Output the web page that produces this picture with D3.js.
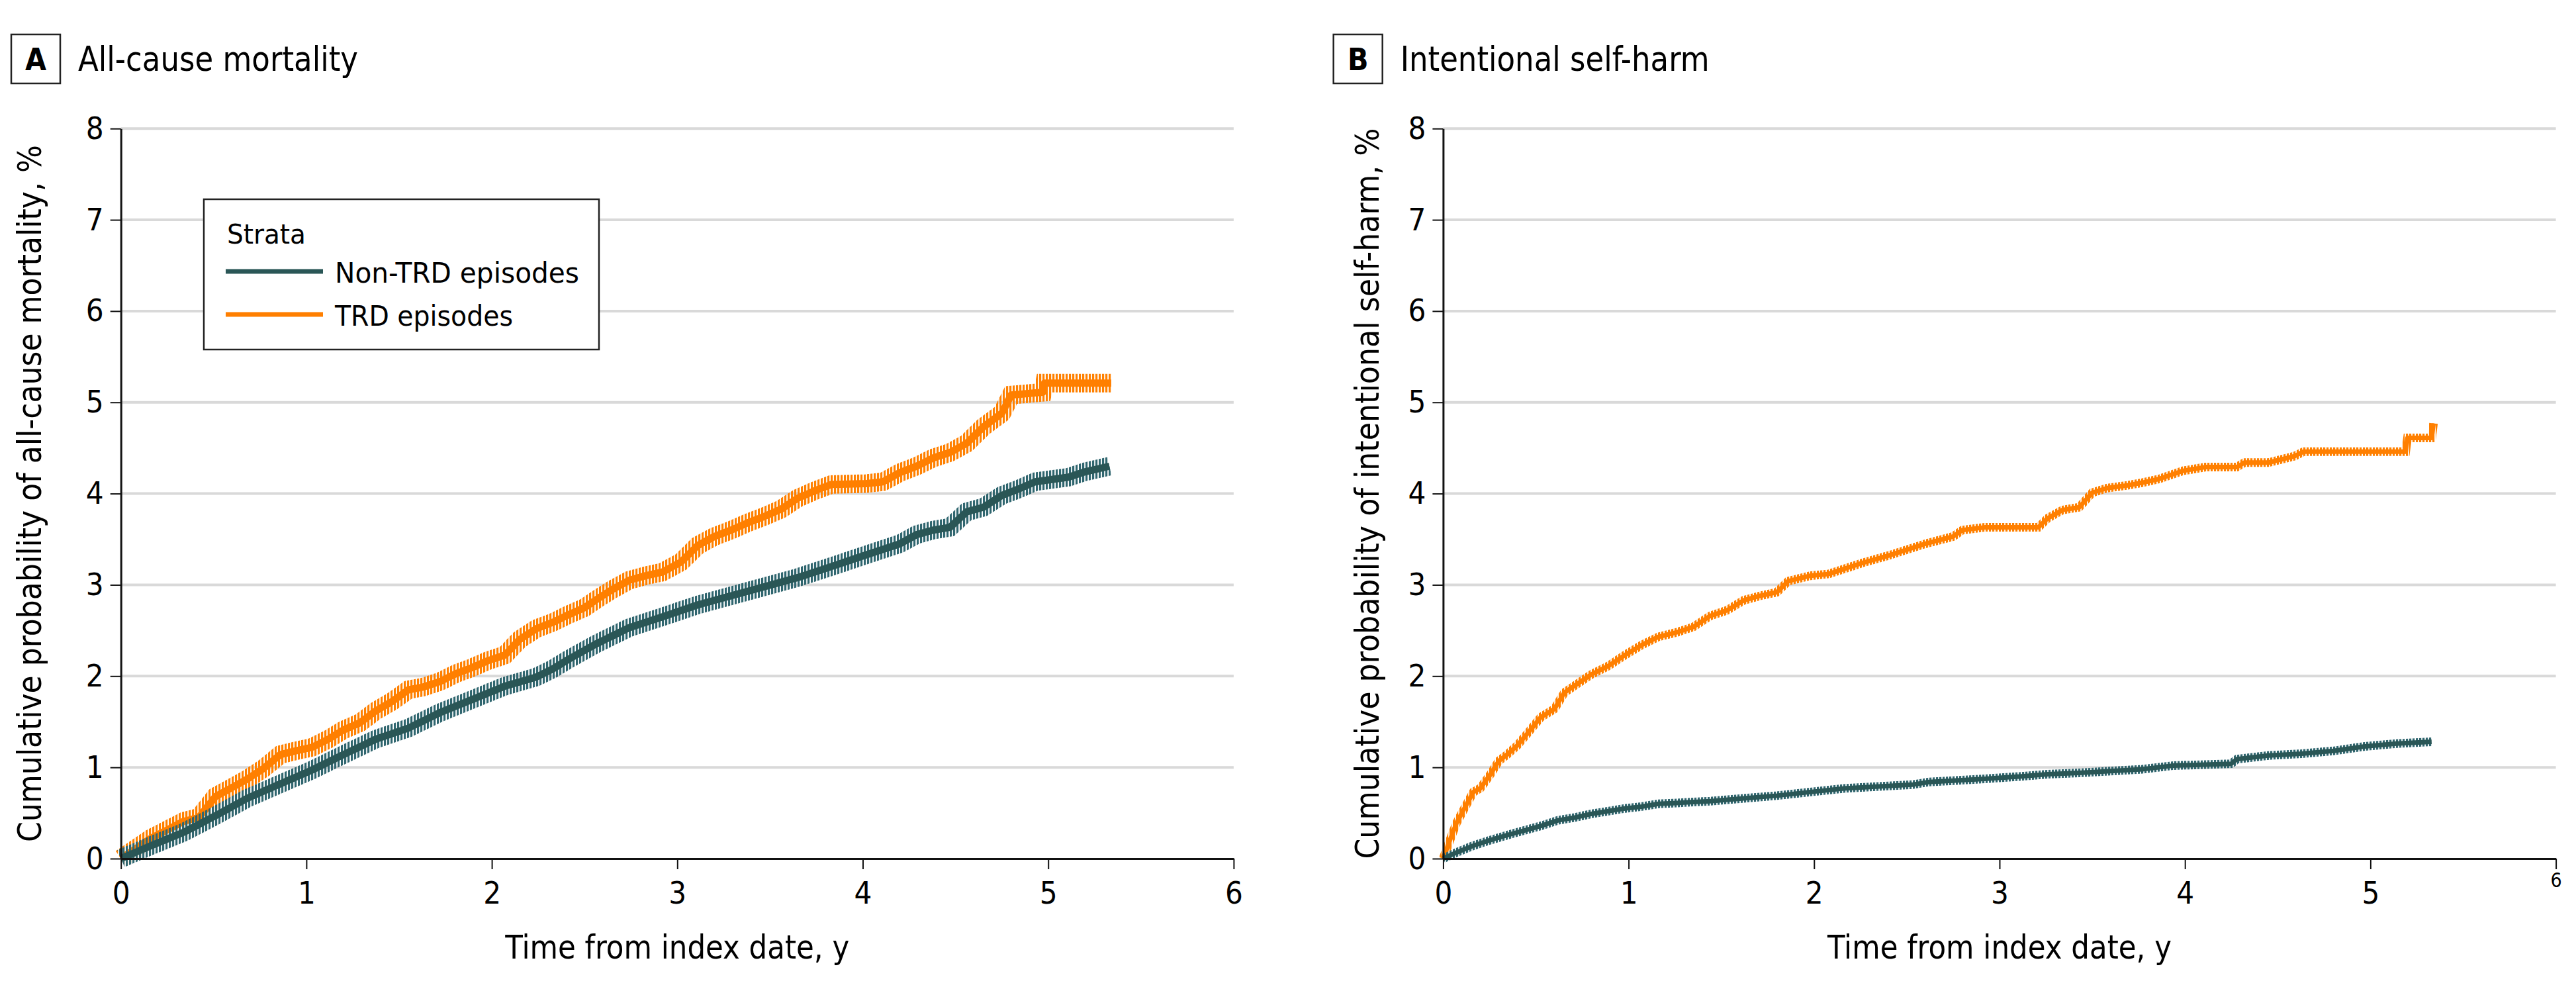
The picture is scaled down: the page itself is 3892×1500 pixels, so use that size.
<!DOCTYPE html>
<html>
<head>
<meta charset="utf-8">
<script src="https://cdn.jsdelivr.net/npm/d3@7"></script>
<style>
  body { margin: 0; background: #fff; }
  text { font-family: "Liberation Sans Narrow", "DejaVu Sans Condensed", "Roboto", sans-serif; fill: #000; }
</style>
</head>
<body>
<div id="chart"></div>
<script>
// cumulative probability (%), as [years, percent]
const mortalityNonTRD = [
  [0, 0], [0.16, 0.14], [0.34, 0.29], [0.51, 0.47], [0.68, 0.66], [0.86, 0.82],
  [1.03, 0.97], [1.2, 1.14], [1.375, 1.31], [1.55, 1.43], [1.72, 1.6], [1.89, 1.74],
  [2.07, 1.89], [2.24, 1.99], [2.33, 2.08], [2.41, 2.18], [2.56, 2.35], [2.74, 2.53],
  [2.92, 2.65], [3.11, 2.78], [3.29, 2.88], [3.47, 2.98], [3.65, 3.08], [3.83, 3.2],
  [4.02, 3.33], [4.2, 3.45], [4.29, 3.55], [4.38, 3.6], [4.47, 3.63], [4.56, 3.8],
  [4.65, 3.85], [4.75, 3.98], [4.84, 4.05], [4.93, 4.13], [5.11, 4.18], [5.2, 4.24],
  [5.33, 4.3]
];
const mortalityTRD = [
  [0, 0], [0.16, 0.22], [0.34, 0.41], [0.42, 0.45], [0.51, 0.68], [0.68, 0.87],
  [0.77, 0.99], [0.86, 1.14], [0.94, 1.18], [1.03, 1.22], [1.12, 1.31], [1.2, 1.41],
  [1.29, 1.49], [1.375, 1.62], [1.46, 1.72], [1.55, 1.85], [1.63, 1.88], [1.72, 1.94],
  [1.81, 2.03], [1.89, 2.09], [1.98, 2.17], [2.07, 2.23], [2.15, 2.4], [2.24, 2.52],
  [2.33, 2.59], [2.41, 2.67], [2.5, 2.75], [2.58, 2.86], [2.65, 2.95], [2.74, 3.05],
  [2.83, 3.1], [2.92, 3.14], [3.02, 3.25], [3.11, 3.43], [3.2, 3.53], [3.29, 3.6],
  [3.38, 3.68], [3.47, 3.75], [3.56, 3.83], [3.65, 3.95], [3.74, 4.03], [3.83, 4.1],
  [4.02, 4.11], [4.11, 4.13], [4.2, 4.23], [4.29, 4.3], [4.38, 4.39], [4.47, 4.45],
  [4.56, 4.55], [4.65, 4.73], [4.75, 4.88], [4.8, 5.08], [4.97, 5.11], [4.98, 5.21],
  [5.34, 5.21]
];
const selfHarmNonTRD = [
  [0, 0], [0.07, 0.065], [0.16, 0.14], [0.25, 0.2], [0.35, 0.26], [0.44, 0.31],
  [0.53, 0.36], [0.62, 0.42], [0.71, 0.45], [0.8, 0.49], [0.89, 0.52], [0.98, 0.55],
  [1.07, 0.57], [1.16, 0.6], [1.26, 0.61], [1.35, 0.62], [1.44, 0.63], [1.62, 0.66],
  [1.8, 0.69], [1.98, 0.73], [2.17, 0.77], [2.35, 0.79], [2.53, 0.81], [2.62, 0.84],
  [2.75, 0.855], [2.92, 0.874], [3.09, 0.897], [3.26, 0.925], [3.43, 0.94], [3.6, 0.96],
  [3.77, 0.98], [3.94, 1.02], [4.11, 1.03], [4.25, 1.04], [4.28, 1.09], [4.45, 1.13],
  [4.63, 1.15], [4.8, 1.18], [4.97, 1.23], [5.14, 1.26], [5.33, 1.28]
];
const selfHarmTRD = [
  [0, 0], [0.036, 0.2], [0.072, 0.39], [0.117, 0.56], [0.163, 0.73], [0.2, 0.77],
  [0.254, 0.92], [0.3, 1.07], [0.345, 1.14], [0.4, 1.24], [0.454, 1.37], [0.527, 1.55],
  [0.6, 1.64], [0.654, 1.82], [0.727, 1.92], [0.8, 2.02], [0.89, 2.11], [0.98, 2.23],
  [1.07, 2.34], [1.16, 2.43], [1.26, 2.48], [1.35, 2.54], [1.44, 2.66], [1.53, 2.72],
  [1.62, 2.83], [1.71, 2.88], [1.8, 2.92], [1.86, 3.04], [1.98, 3.1], [2.08, 3.12],
  [2.17, 3.18], [2.26, 3.24], [2.4, 3.32], [2.6, 3.45], [2.75, 3.53], [2.8, 3.6],
  [2.92, 3.63], [3.21, 3.63], [3.26, 3.73], [3.34, 3.82], [3.43, 3.85], [3.5, 4.01],
  [3.58, 4.06], [3.69, 4.09], [3.77, 4.12], [3.86, 4.16], [3.99, 4.25], [4.11, 4.29],
  [4.28, 4.29], [4.32, 4.34], [4.45, 4.34], [4.59, 4.41], [4.64, 4.46], [5.19, 4.46],
  [5.2, 4.61], [5.33, 4.61], [5.34, 4.77]
];

const xTicks = [0, 1, 2, 3, 4, 5, 6];
const yTicks = [0, 1, 2, 3, 4, 5, 6, 7, 8];
const strata = ["Non-TRD episodes", "TRD episodes"];
const legendTitle = "Strata";
const xTitle = "Time from index date, y";

const colors = { core: ["#2a5656", "#ff7f00"], tick: ["#30666f", "#ff8000"] };

const panels = [
  { letter: "A", title: "All-cause mortality", titleLen: 423,
    yTitle: "Cumulative probability of all-cause mortality, %", yTitleLen: 1053,
    left: 182.7, right: 1863.9, series: [mortalityTRD, mortalityNonTRD],
    core: 11, band: 28, legend: true },
  { letter: "B", title: "Intentional self-harm", titleLen: 467,
    yTitle: "Cumulative probability of intentional self-harm, %", yTitleLen: 1104,
    left: 2180.4, right: 3861.6, series: [selfHarmTRD, selfHarmNonTRD],
    core: 7, band: 13, legend: false }
];

const plotTop = 194.2, plotBottom = 1297;

const svg = d3.select("#chart").append("svg")
    .attr("width", 3892)
    .attr("height", 1500);

svg.append("rect").attr("width", 3892).attr("height", 1500).attr("fill", "#fff");

// vertical hatch used to imitate the censoring marks
const defs = svg.append("defs");
colors.tick.forEach((c, i) => {
  const p = defs.append("pattern")
      .attr("id", "hatch" + i)
      .attr("patternUnits", "userSpaceOnUse")
      .attr("width", 5).attr("height", 8);
  p.append("rect").attr("width", 3.2).attr("height", 8).attr("fill", c);
});

panels.forEach(p => {
  const x = d3.scaleLinear().domain([0, 6]).range([p.left, p.right]);
  const y = d3.scaleLinear().domain([0, 8]).range([plotBottom, plotTop]);
  const g = svg.append("g");

  // panel letter + title
  const boxX = p.left - 165.7;
  g.append("rect")
      .attr("x", boxX).attr("y", 52).attr("width", 74).attr("height", 74)
      .attr("fill", "none").attr("stroke", "#222").attr("stroke-width", 2.5);
  g.append("text")
      .attr("x", boxX + 37).attr("y", 106)
      .attr("text-anchor", "middle")
      .style("font-size", "46px").style("font-weight", "bold")
      .text(p.letter);
  g.append("text")
      .attr("x", boxX + 101).attr("y", 107)
      .attr("textLength", p.titleLen).attr("lengthAdjust", "spacingAndGlyphs")
      .style("font-size", "51px")
      .text(p.title);

  // gridlines
  g.append("g").selectAll("line")
    .data(yTicks.filter(d => d > 0))
    .join("line")
      .attr("x1", x(0)).attr("x2", x(6))
      .attr("y1", d => y(d)).attr("y2", d => y(d))
      .attr("stroke", "#d9d9d9").attr("stroke-width", 4);

  // curves
  const line = d3.line().x(d => x(d[0])).y(d => y(d[1]));
  p.series.forEach((s, k) => {
    const ci = k === 0 ? 1 : 0;   // TRD first, non-TRD drawn on top
    g.append("path")
        .attr("d", line(s))
        .attr("fill", "none")
        .attr("stroke", "url(#hatch" + ci + ")")
        .attr("stroke-width", p.band);
    g.append("path")
        .attr("d", line(s))
        .attr("fill", "none")
        .attr("stroke", colors.core[ci])
        .attr("stroke-width", p.core)
        .attr("stroke-linejoin", "round");
  });

  // axes
  const ax = g.append("g")
      .attr("transform", `translate(0,${plotBottom})`)
      .call(d3.axisBottom(x).tickValues(xTicks).tickFormat(d3.format("d"))
        .tickSize(16).tickSizeOuter(0).tickPadding(19));
  const ay = g.append("g")
      .attr("transform", `translate(${x(0)},0)`)
      .call(d3.axisLeft(y).tickValues(yTicks).tickFormat(d3.format("d"))
        .tickSize(16).tickSizeOuter(0).tickPadding(10));
  [ax, ay].forEach(a => {
    a.select(".domain").attr("stroke", "#111").attr("stroke-width", 3);
    a.selectAll(".tick line").attr("stroke", "#111").attr("stroke-width", 2);
    a.selectAll(".tick text")
        .style("font-size", "47px")
        .style("font-family", '"Liberation Sans Narrow", "DejaVu Sans Condensed", Roboto, sans-serif')
        .attr("fill", "#000");
  });
  ax.select(".domain").raise();
  if (p.letter === "B") {
    // the last x label sits smaller and higher in the original
    ax.selectAll(".tick text").filter(d => d === 6)
        .style("font-size", "30px").attr("y", 22);
  }

  // axis titles
  g.append("text")
      .attr("x", (x(0) + x(6)) / 2).attr("y", 1448)
      .attr("text-anchor", "middle")
      .attr("textLength", 520).attr("lengthAdjust", "spacingAndGlyphs")
      .style("font-size", "50px")
      .text(xTitle);
  g.append("text")
      .attr("transform", `translate(${p.left - 120.7 + (p.letter === "B" ? 23.3 : 0)},${(plotTop + plotBottom) / 2}) rotate(-90)`)
      .attr("text-anchor", "middle")
      .attr("textLength", p.yTitleLen).attr("lengthAdjust", "spacingAndGlyphs")
      .style("font-size", "50px")
      .text(p.yTitle);

  // legend
  if (p.legend) {
    const lg = g.append("g");
    lg.append("rect")
        .attr("x", 308).attr("y", 301).attr("width", 597).attr("height", 227)
        .attr("fill", "#fff").attr("stroke", "#222").attr("stroke-width", 2.5);
    lg.append("text")
        .attr("x", 343).attr("y", 368)
        .attr("textLength", 119).attr("lengthAdjust", "spacingAndGlyphs")
        .style("font-size", "40px")
        .text(legendTitle);
    const lens = [369, 269];
    strata.forEach((name, i) => {
      const yy = 410 + i * 65;
      lg.append("line")
          .attr("x1", 341).attr("x2", 488).attr("y1", yy).attr("y2", yy)
          .attr("stroke", colors.core[i]).attr("stroke-width", 7);
      lg.append("text")
          .attr("x", 506).attr("y", yy + 17)
          .attr("textLength", lens[i]).attr("lengthAdjust", "spacingAndGlyphs")
          .style("font-size", "42px")
          .text(name);
    });
  }
});
</script>
</body>
</html>
